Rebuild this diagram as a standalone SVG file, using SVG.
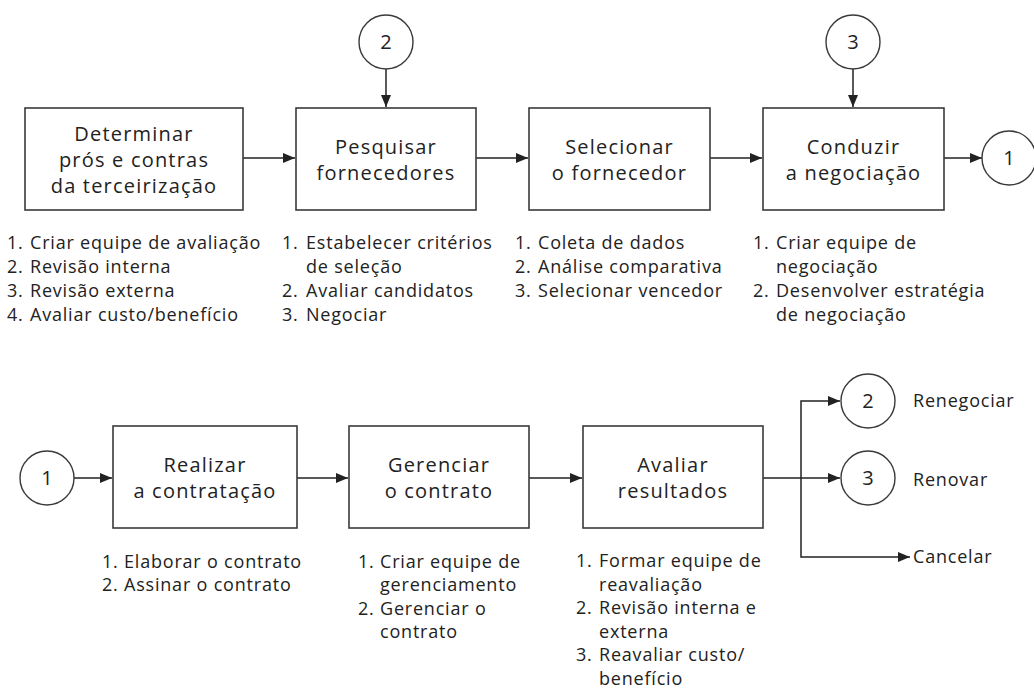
<svg xmlns="http://www.w3.org/2000/svg" width="1034" height="688" viewBox="0 0 1034 688">
<style>
.box{fill:#fff;stroke:#3a3a3a;stroke-width:1.6}
.circ{fill:#fff;stroke:#3a3a3a;stroke-width:1.4}
.lbl{font-family:"Open Sans","Noto Sans",sans-serif;font-size:20px;fill:#222;text-anchor:middle;letter-spacing:1.2px}
.num{font-family:"Open Sans","Noto Sans",sans-serif;font-size:20px;fill:#222;text-anchor:middle}
.li{font-family:"Open Sans","Noto Sans",sans-serif;font-size:18px;fill:#222;letter-spacing:0.8px}
.side{font-family:"Open Sans","Noto Sans",sans-serif;font-size:18px;fill:#222;letter-spacing:0.8px}
.con{fill:none;stroke:#222;stroke-width:1.5}
</style>
<defs>
<marker id="ah" markerWidth="12" markerHeight="10" refX="12" refY="5" orient="auto" markerUnits="userSpaceOnUse">
<path d="M0,0 L12,5 L0,10 Z" fill="#222"/>
</marker>
</defs>

<g id="connectors">
<line class="con" x1="386" y1="69" x2="386" y2="107" marker-end="url(#ah)"/>
<line class="con" x1="853" y1="69" x2="853" y2="107" marker-end="url(#ah)"/>
<line class="con" x1="243" y1="158" x2="295" y2="158" marker-end="url(#ah)"/>
<line class="con" x1="476" y1="158" x2="528" y2="158" marker-end="url(#ah)"/>
<line class="con" x1="710" y1="158" x2="762" y2="158" marker-end="url(#ah)"/>
<line class="con" x1="944" y1="158" x2="982" y2="158" marker-end="url(#ah)"/>
<line class="con" x1="74" y1="478" x2="112" y2="478" marker-end="url(#ah)"/>
<line class="con" x1="297" y1="478" x2="348" y2="478" marker-end="url(#ah)"/>
<line class="con" x1="529" y1="478" x2="582" y2="478" marker-end="url(#ah)"/>
<line class="con" x1="763" y1="478" x2="840" y2="478" marker-end="url(#ah)"/>
<path class="con" d="M801,478 V401 H840" marker-end="url(#ah)"/>
<path class="con" d="M801,478 V557 H910" marker-end="url(#ah)"/>
</g>

<g id="c2top"><circle class="circ" cx="386" cy="42" r="27"/><text class="num" x="386" y="49">2</text></g>
<g id="c3top"><circle class="circ" cx="853" cy="42" r="27"/><text class="num" x="853" y="49">3</text></g>
<g id="c1top"><circle class="circ" cx="1009" cy="158" r="27"/><text class="num" x="1009" y="165">1</text></g>

<g id="box1"><rect class="box" x="25" y="108" width="218" height="102"/>
<text class="lbl" x="134" y="141">Determinar</text>
<text class="lbl" x="134" y="167">prós e contras</text>
<text class="lbl" x="134" y="193">da terceirização</text></g>
<g id="box2"><rect class="box" x="296" y="108" width="180" height="102"/>
<text class="lbl" x="386" y="154">Pesquisar</text>
<text class="lbl" x="386" y="180">fornecedores</text></g>
<g id="box3"><rect class="box" x="529" y="108" width="181" height="102"/>
<text class="lbl" x="619.5" y="154">Selecionar</text>
<text class="lbl" x="619.5" y="180">o fornecedor</text></g>
<g id="box4"><rect class="box" x="763" y="108" width="181" height="102"/>
<text class="lbl" x="853.5" y="154">Conduzir</text>
<text class="lbl" x="853.5" y="180">a negociação</text></g>

<g id="list1">
<text class="li" x="7" y="249">1.</text><text class="li" x="30" y="249">Criar equipe de avaliação</text>
<text class="li" x="7" y="273">2.</text><text class="li" x="30" y="273">Revisão interna</text>
<text class="li" x="7" y="297">3.</text><text class="li" x="30" y="297">Revisão externa</text>
<text class="li" x="7" y="321">4.</text><text class="li" x="30" y="321">Avaliar custo/benefício</text>
</g>
<g id="list2">
<text class="li" x="282" y="249">1.</text><text class="li" x="306" y="249">Estabelecer critérios</text>
<text class="li" x="306" y="273">de seleção</text>
<text class="li" x="282" y="297">2.</text><text class="li" x="306" y="297">Avaliar candidatos</text>
<text class="li" x="282" y="321">3.</text><text class="li" x="306" y="321">Negociar</text>
</g>
<g id="list3">
<text class="li" x="515" y="249">1.</text><text class="li" x="538" y="249">Coleta de dados</text>
<text class="li" x="515" y="273">2.</text><text class="li" x="538" y="273">Análise comparativa</text>
<text class="li" x="515" y="297">3.</text><text class="li" x="538" y="297">Selecionar vencedor</text>
</g>
<g id="list4">
<text class="li" x="753" y="249">1.</text><text class="li" x="776" y="249">Criar equipe de</text>
<text class="li" x="776" y="273">negociação</text>
<text class="li" x="753" y="297">2.</text><text class="li" x="776" y="297">Desenvolver estratégia</text>
<text class="li" x="776" y="321">de negociação</text>
</g>

<g id="c1bot"><circle class="circ" cx="47" cy="478" r="27"/><text class="num" x="47" y="485">1</text></g>
<g id="box5"><rect class="box" x="113" y="426" width="184" height="102"/>
<text class="lbl" x="205" y="472">Realizar</text>
<text class="lbl" x="205" y="498">a contratação</text></g>
<g id="box6"><rect class="box" x="349" y="426" width="180" height="102"/>
<text class="lbl" x="439" y="472">Gerenciar</text>
<text class="lbl" x="439" y="498">o contrato</text></g>
<g id="box7"><rect class="box" x="583" y="426" width="180" height="102"/>
<text class="lbl" x="673" y="472">Avaliar</text>
<text class="lbl" x="673" y="498">resultados</text></g>

<g id="c2bot"><circle class="circ" cx="868" cy="401" r="27"/><text class="num" x="868" y="408">2</text></g>
<g id="c3bot"><circle class="circ" cx="868" cy="478" r="27"/><text class="num" x="868" y="485">3</text></g>
<g id="outcomes">
<text class="side" x="913" y="407">Renegociar</text>
<text class="side" x="913" y="486">Renovar</text>
<text class="side" x="913" y="563">Cancelar</text>
</g>

<g id="list5">
<text class="li" x="102" y="568">1.</text><text class="li" x="124" y="568">Elaborar o contrato</text>
<text class="li" x="102" y="591">2.</text><text class="li" x="124" y="591">Assinar o contrato</text>
</g>
<g id="list6">
<text class="li" x="358" y="568">1.</text><text class="li" x="380" y="568">Criar equipe de</text>
<text class="li" x="380" y="591">gerenciamento</text>
<text class="li" x="358" y="615">2.</text><text class="li" x="380" y="615">Gerenciar o</text>
<text class="li" x="380" y="638">contrato</text>
</g>
<g id="list7">
<text class="li" x="576" y="567">1.</text><text class="li" x="599" y="567">Formar equipe de</text>
<text class="li" x="599" y="591">reavaliação</text>
<text class="li" x="576" y="614">2.</text><text class="li" x="599" y="614">Revisão interna e</text>
<text class="li" x="599" y="638">externa</text>
<text class="li" x="576" y="661">3.</text><text class="li" x="599" y="661">Reavaliar custo/</text>
<text class="li" x="599" y="685">benefício</text>
</g>
</svg>
